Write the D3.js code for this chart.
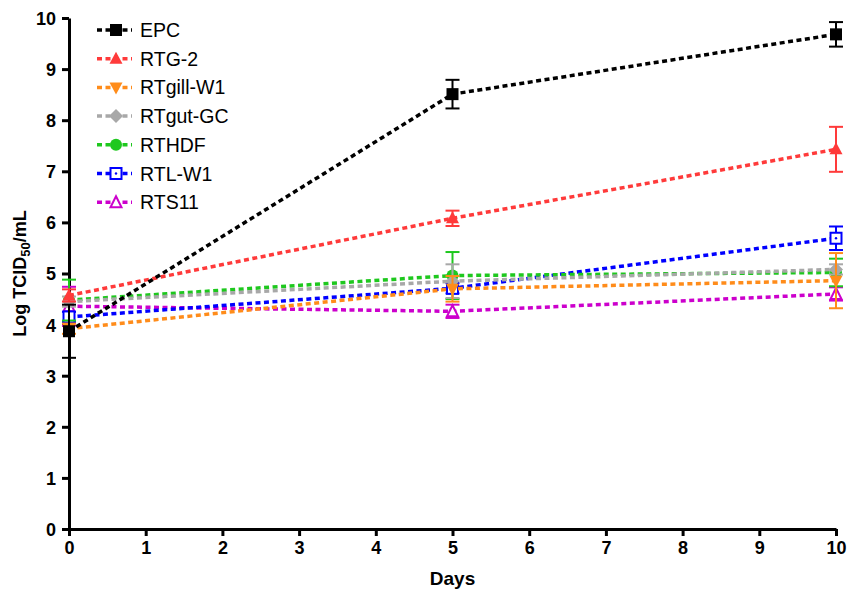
<!DOCTYPE html>
<html>
<head>
<meta charset="utf-8">
<title></title>
<script src="https://d3js.org/d3.v7.min.js"></script>
<style>
body { margin: 0; background: #fff; }
.axis path, .axis line { stroke: #000; stroke-width: 3px; }
.axis text { font: bold 18px "Liberation Sans", Arial, sans-serif; fill: #000; }
.legend text { font: 19.5px "Liberation Sans", Arial, sans-serif; fill: #000; }
</style>
</head>
<body>
<script>
// data
var days = [0, 5, 10];
var names = ["EPC", "RTG-2", "RTgill-W1", "RTgut-GC", "RTHDF", "RTL-W1", "RTS11"];
var colors = ["#000000", "#ff3a3a", "#ff8c1a", "#a8a8a8", "#1ec81e", "#0000ff", "#cc00cc"];
var symbols = ["square", "triangle", "triangleDown", "diamond", "circle", "squareOpen", "triangleOpen"];

var epc      = [3.87, 8.51, 9.68];
var rtg2     = [4.57, 6.08, 7.43];
var rtgill   = [3.92, 4.70, 4.86];
var rtgut    = [4.45, 4.85, 5.08];
var rthdf    = [4.48, 4.96, 5.02];
var rtlw1    = [4.15, 4.71, 5.69];
var rts11    = [4.36, 4.26, 4.60];

var epcErr    = [0.52, 0.28, 0.24];
var rtg2Err   = [0.12, 0.15, 0.44];
var rtgillErr = [0.10, 0.25, 0.54];
var rtgutErr  = [0.10, 0.33, 0.10];
var rthdfErr  = [0.40, 0.46, 0.27];
var rtlw1Err  = [0.10, 0.10, 0.23];
var rts11Err  = [0.38, 0.13, 0.13];

var xTicks = [0, 1, 2, 3, 4, 5, 6, 7, 8, 9, 10];
var yTicks = [0, 1, 2, 3, 4, 5, 6, 7, 8, 9, 10];

var values = [epc, rtg2, rtgill, rtgut, rthdf, rtlw1, rts11];
var errors = [epcErr, rtg2Err, rtgillErr, rtgutErr, rthdfErr, rtlw1Err, rts11Err];

var W = 848, H = 590;
var margin = {top: 18, right: 12, bottom: 61, left: 69};

var svg = d3.select("body").append("svg")
  .attr("width", W).attr("height", H);

var x = d3.scaleLinear().domain([0, 10]).range([margin.left, W - margin.right]);
var y = d3.scaleLinear().domain([0, 10]).range([H - margin.bottom, margin.top]);

// axes
var xAxis = svg.append("g").attr("class", "axis")
  .attr("transform", "translate(0," + y(0) + ")")
  .call(d3.axisBottom(x).tickValues(xTicks).tickSize(7).tickSizeOuter(0).tickPadding(5));
var yAxis = svg.append("g").attr("class", "axis")
  .attr("transform", "translate(" + x(0) + ",0)")
  .call(d3.axisLeft(y).tickValues(yTicks).tickSize(7).tickSizeOuter(0).tickPadding(6));
yAxis.selectAll("text").attr("dy", "0.36em");

svg.append("text")
  .attr("x", (x(0) + x(10)) / 2).attr("y", 585)
  .attr("text-anchor", "middle")
  .style("font", "bold 19px 'Liberation Sans', Arial, sans-serif")
  .text("Days");

var yl = svg.append("text")
  .attr("transform", "translate(26," + ((y(0) + y(10)) / 2) + ") rotate(-90)")
  .attr("text-anchor", "middle")
  .style("font", "bold 18px 'Liberation Sans', Arial, sans-serif");
yl.append("tspan").text("Log TCID");
yl.append("tspan").attr("dy", 4).style("font-size", "13px").text("50");
yl.append("tspan").attr("dy", -4).text("/mL");

// marker drawing
function marker(g, sym, color) {
  var s = 12;
  if (sym === "square") {
    g.append("rect").attr("x", -s / 2).attr("y", -s / 2).attr("width", s).attr("height", s).attr("fill", color);
  } else if (sym === "squareOpen") {
    g.append("rect").attr("x", -5.5).attr("y", -5.5).attr("width", 11).attr("height", 11)
      .attr("fill", "#fff").attr("stroke", color).attr("stroke-width", 2);
    g.append("circle").attr("r", 1.2).attr("fill", color);
  } else if (sym === "circle") {
    g.append("circle").attr("r", 6).attr("fill", color);
  } else if (sym === "diamond") {
    g.append("path").attr("d", "M0,-7L7,0L0,7L-7,0Z").attr("fill", color);
  } else if (sym === "triangle") {
    g.append("path").attr("d", "M0,-7L6.5,5L-6.5,5Z").attr("fill", color);
  } else if (sym === "triangleDown") {
    g.append("path").attr("d", "M0,7L6.5,-5L-6.5,-5Z").attr("fill", color);
  } else if (sym === "triangleOpen") {
    g.append("path").attr("d", "M0,-6L5.5,5L-5.5,5Z")
      .attr("fill", "#fff").attr("stroke", color).attr("stroke-width", 2);
  }
}

var line = d3.line()
  .x(function(d) { return x(d.day); })
  .y(function(d) { return y(d.v); });

// draw series (last first so EPC ends up on top)
for (var k = names.length - 1; k >= 0; k--) {
  var pts = days.map(function(d, i) { return {day: d, v: values[k][i], e: errors[k][i]}; });
  var g = svg.append("g");
  g.append("path").datum(pts).attr("d", line)
    .attr("fill", "none").attr("stroke", colors[k])
    .attr("stroke-width", 3.5).attr("stroke-dasharray", "5,3.5");
  pts.forEach(function(p) {
    var eb = g.append("g").attr("stroke", colors[k]).attr("stroke-width", 2);
    eb.append("line").attr("x1", x(p.day)).attr("x2", x(p.day)).attr("y1", y(p.v - p.e)).attr("y2", y(p.v + p.e));
    eb.append("line").attr("x1", x(p.day) - 7).attr("x2", x(p.day) + 7).attr("y1", y(p.v - p.e)).attr("y2", y(p.v - p.e));
    eb.append("line").attr("x1", x(p.day) - 7).attr("x2", x(p.day) + 7).attr("y1", y(p.v + p.e)).attr("y2", y(p.v + p.e));
    marker(g.append("g").attr("transform", "translate(" + x(p.day) + "," + y(p.v) + ")"), symbols[k], colors[k]);
  });
}

// legend
var legend = svg.append("g").attr("class", "legend");
names.forEach(function(n, i) {
  var ly = 30 + i * 28.7;
  var row = legend.append("g").attr("transform", "translate(0," + ly + ")");
  row.append("line").attr("x1", 97).attr("x2", 132).attr("y1", 0).attr("y2", 0)
    .attr("stroke", colors[i]).attr("stroke-width", 3.5).attr("stroke-dasharray", "5,3.5");
  marker(row.append("g").attr("transform", "translate(116,0)"), symbols[i], colors[i]);
  row.append("text").attr("x", 140).attr("y", 0).attr("dy", "0.36em").text(n);
});
</script>
</body>
</html>
